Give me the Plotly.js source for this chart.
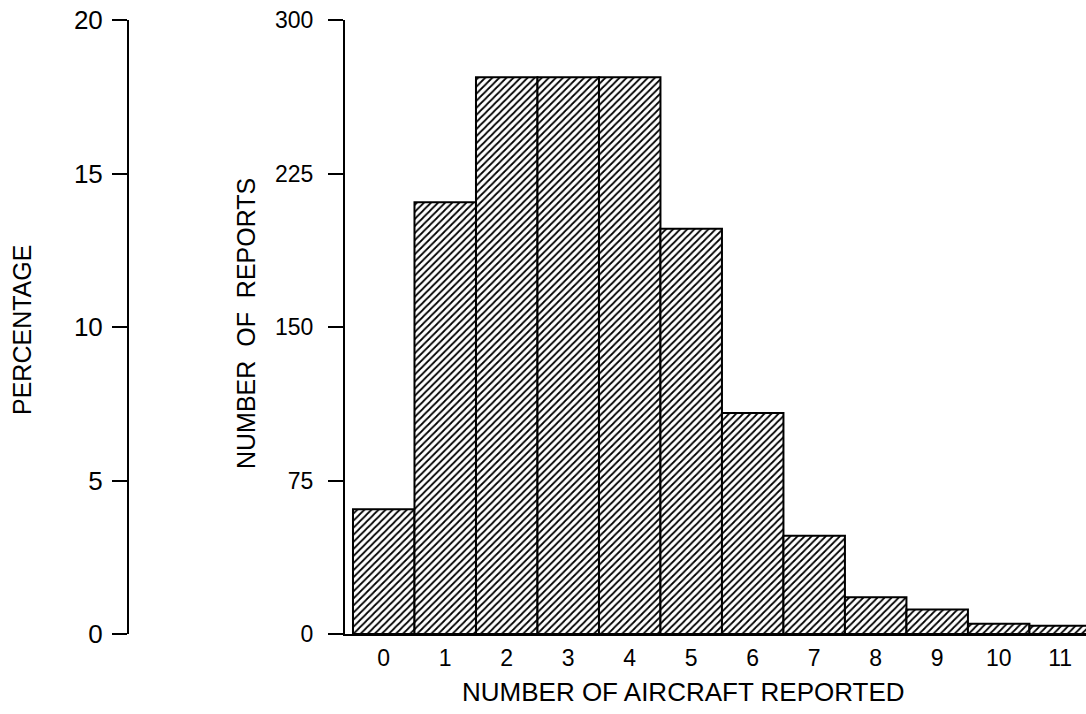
<!DOCTYPE html>
<html>
<head>
<meta charset="utf-8">
<script src="https://cdn.plot.ly/plotly-3.0.1.min.js"></script>
<style>html,body{margin:0;padding:0;background:#fff;}#chart{width:1086px;height:714px;}</style>
</head>
<body>
<div id="chart"></div>
<script>
// Data
const aircraftCounts = [0, 1, 2, 3, 4, 5, 6, 7, 8, 9, 10, 11];
const reports = [61, 211, 272, 272, 272, 198, 108, 48, 18, 12, 5, 4];
const reportTicks = [0, 75, 150, 225, 300];
const percentTicks = [0, 5, 10, 15, 20];
const xLabels = ["0","1","2","3","4","5","6","7","8","9","10","11"];

const W = 1086, H = 714;
const MT = 20, MB = 80;
const PH = H - MT - MB;
const FONT = "Liberation Sans, Arial, Helvetica, sans-serif";
const py = (pix) => (H - MB - pix) / PH;

const traces = [
  {
    type: 'bar',
    x: aircraftCounts,
    y: reports,
    width: 1,
    marker: {
      color: 'white',
      line: {color: 'black', width: 2},
      pattern: {shape: '/', fgcolor: 'black', bgcolor: 'white', size: 5, solidity: 0.35}
    },
    hoverinfo: 'x+y',
    xaxis: 'x', yaxis: 'y'
  },
  {
    type: 'scatter', x: [], y: [], xaxis: 'x', yaxis: 'y2', showlegend: false, hoverinfo: 'skip'
  }
];

const layout = {
  width: W, height: H,
  margin: {l: 0, r: 0, t: MT, b: MB},
  paper_bgcolor: 'white', plot_bgcolor: 'white',
  showlegend: false,
  bargap: 0,
  xaxis: {
    domain: [345 / W, 1],
    range: [-0.63, 11.42],
    tickvals: aircraftCounts,
    ticktext: xLabels,
    ticks: '',
    showgrid: false, zeroline: false,
    showline: true, linecolor: 'black', linewidth: 2,
    tickfont: {family: FONT, size: 23, color: 'black'},
    ticklabelstandoff: 2,
    fixedrange: true
  },
  yaxis: {
    range: [0, 300],
    tickvals: reportTicks,
    ticks: 'outside', ticklen: 15, tickwidth: 2, tickcolor: 'black',
    showgrid: false, zeroline: false,
    showline: true, linecolor: 'black', linewidth: 2,
    tickfont: {family: FONT, size: 23, color: 'black'},
    ticklabelstandoff: 10,
    fixedrange: true
  },
  yaxis2: {
    overlaying: 'y',
    anchor: 'free',
    position: 128 / W,
    side: 'left',
    range: [0, 20],
    tickvals: percentTicks,
    ticks: 'outside', ticklen: 15, tickwidth: 2, tickcolor: 'black',
    showgrid: false, zeroline: false,
    showline: true, linecolor: 'black', linewidth: 2,
    tickfont: {family: FONT, size: 26, color: 'black'},
    ticklabelstandoff: 4,
    fixedrange: true
  },
  annotations: [
    {xref: 'paper', yref: 'paper', x: 22 / W, y: py(330), text: 'PERCENTAGE',
     textangle: -90, showarrow: false, font: {family: FONT, size: 25, color: 'black'}, xanchor: 'center', yanchor: 'middle'},
    {xref: 'paper', yref: 'paper', x: 246 / W, y: py(324), text: 'NUMBER\u00A0 OF\u00A0 REPORTS',
     textangle: -90, showarrow: false, font: {family: FONT, size: 25, color: 'black'}, xanchor: 'center', yanchor: 'middle'},
    {xref: 'paper', yref: 'paper', x: 683 / W, y: py(692), text: 'NUMBER OF AIRCRAFT REPORTED',
     showarrow: false, font: {family: FONT, size: 26, color: 'black'}, xanchor: 'center', yanchor: 'middle'}
  ]
};

Plotly.newPlot('chart', traces, layout, {staticPlot: true, displayModeBar: false});
</script>
</body>
</html>
